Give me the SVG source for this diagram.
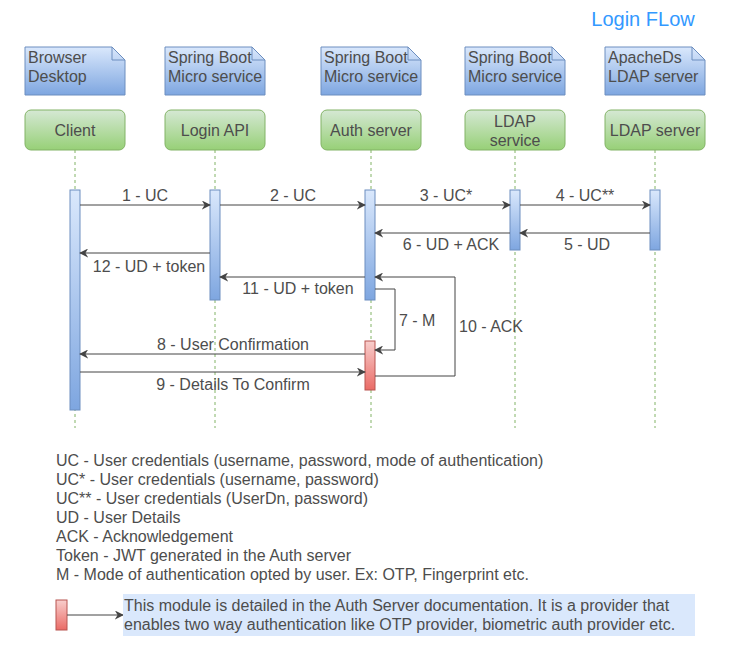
<svg xmlns="http://www.w3.org/2000/svg" width="731" height="668" viewBox="0 0 731 668">
<defs>
<linearGradient id="gBlue" x1="0" y1="0" x2="0" y2="1"><stop offset="0" stop-color="#dae8fc"/><stop offset="1" stop-color="#7ea6e0"/></linearGradient>
<linearGradient id="gGreen" x1="0" y1="0" x2="0" y2="1"><stop offset="0" stop-color="#d5e8d4"/><stop offset="1" stop-color="#97d077"/></linearGradient>
<linearGradient id="gRed" x1="0" y1="0" x2="0" y2="1"><stop offset="0" stop-color="#f8cecc"/><stop offset="1" stop-color="#ea6b66"/></linearGradient>
<marker id="arr" viewBox="0 0 10 10" refX="9" refY="5" markerWidth="9" markerHeight="9" markerUnits="userSpaceOnUse" orient="auto">
<path d="M0,0 L10,5 L0,10 L3,5 Z" fill="#444"/>
</marker>
</defs>
<style>
text{font-family:"Liberation Sans",Arial,sans-serif;font-size:16px;fill:#4d4d4d}
.mid{text-anchor:middle}
.note{fill:url(#gBlue);stroke:#6c8ebf;stroke-width:1}
.fold{fill:none;stroke:#6c8ebf;stroke-width:1}
.box{fill:url(#gGreen);stroke:#82b366;stroke-width:1}
.life{stroke:#82b366;stroke-width:1;stroke-dasharray:3,3;fill:none}
.act{fill:url(#gBlue);stroke:#6c8ebf;stroke-width:1}
.actr{fill:url(#gRed);stroke:#b85450;stroke-width:1}
.msg{stroke:#444;stroke-width:1;fill:none;marker-end:url(#arr)}
</style>
<rect width="731" height="668" fill="#ffffff"/>
<text x="643" y="26" class="mid" style="font-size:20px;fill:#3399ff">Login FLow</text>

<g id="lifelines">
<line class="life" x1="75" y1="150" x2="75" y2="428"/>
<line class="life" x1="215" y1="150" x2="215" y2="428"/>
<line class="life" x1="371" y1="150" x2="371" y2="428"/>
<line class="life" x1="515" y1="150" x2="515" y2="428"/>
<line class="life" x1="655" y1="150" x2="655" y2="428"/>
</g>

<g id="note-browser">
<path class="note" d="M25,47 H112 L125,60 V95 H25 Z"/><path class="fold" d="M112,47 V60 H125"/>
<text x="28" y="63">Browser</text><text x="28" y="82">Desktop</text>
</g>
<g id="note-login">
<path class="note" d="M165,47 H252 L265,60 V95 H165 Z"/><path class="fold" d="M252,47 V60 H265"/>
<text x="168" y="63">Spring Boot</text><text x="168" y="82">Micro service</text>
</g>
<g id="note-auth">
<path class="note" d="M321,47 H408 L421,60 V95 H321 Z"/><path class="fold" d="M408,47 V60 H421"/>
<text x="324" y="63">Spring Boot</text><text x="324" y="82">Micro service</text>
</g>
<g id="note-ldapsvc">
<path class="note" d="M465,47 H552 L565,60 V95 H465 Z"/><path class="fold" d="M552,47 V60 H565"/>
<text x="468" y="63">Spring Boot</text><text x="468" y="82">Micro service</text>
</g>
<g id="note-ldapserver">
<path class="note" d="M605,47 H692 L705,60 V95 H605 Z"/><path class="fold" d="M692,47 V60 H705"/>
<text x="608" y="63">ApacheDs</text><text x="608" y="82">LDAP server</text>
</g>

<g id="client"><rect class="box" x="25" y="110" width="100" height="40" rx="6"/><text x="75" y="136" class="mid">Client</text></g>
<g id="login-api"><rect class="box" x="165" y="110" width="100" height="40" rx="6"/><text x="215" y="136" class="mid">Login API</text></g>
<g id="auth-server"><rect class="box" x="321" y="110" width="100" height="40" rx="6"/><text x="371" y="136" class="mid">Auth server</text></g>
<g id="ldap-service"><rect class="box" x="465" y="110" width="100" height="40" rx="6"/><text x="515" y="127" class="mid">LDAP</text><text x="515" y="146" class="mid">service</text></g>
<g id="ldap-server"><rect class="box" x="605" y="110" width="100" height="40" rx="6"/><text x="655" y="136" class="mid">LDAP server</text></g>

<g id="activations">
<rect class="act" x="70" y="190" width="10" height="220"/>
<rect class="act" x="210" y="190" width="10" height="110"/>
<rect class="act" x="365" y="190" width="10" height="110"/>
<rect class="act" x="510" y="190" width="10" height="60"/>
<rect class="act" x="650" y="190" width="10" height="60"/>
<rect class="actr" x="365" y="341" width="10" height="49"/>
</g>

<g id="connectors">
<line class="msg" x1="80" y1="205" x2="210" y2="205"/>
<line class="msg" x1="220" y1="205" x2="365" y2="205"/>
<line class="msg" x1="375" y1="205" x2="510" y2="205"/>
<line class="msg" x1="520" y1="205" x2="650" y2="205"/>
<line class="msg" x1="650" y1="233" x2="520" y2="233"/>
<line class="msg" x1="510" y1="233" x2="375" y2="233"/>
<line class="msg" x1="210" y1="253" x2="80" y2="253"/>
<line class="msg" x1="365" y1="277" x2="220" y2="277"/>
<path class="msg" d="M375,289 H395 V350 H375"/>
<path class="msg" d="M375,376 H455 V277 H375"/>
<line class="msg" x1="365" y1="354" x2="80" y2="354"/>
<line class="msg" x1="80" y1="372" x2="365" y2="372"/>
<text x="145" y="201" class="mid">1 - UC</text>
<text x="293" y="201" class="mid">2 - UC</text>
<text x="446" y="201" class="mid">3 - UC*</text>
<text x="585" y="201" class="mid">4 - UC**</text>
<text x="587" y="250" class="mid">5 - UD</text>
<text x="451" y="250" class="mid">6 - UD + ACK</text>
<text x="149" y="272" class="mid">12 - UD + token</text>
<text x="298" y="294" class="mid">11 - UD + token</text>
<text x="399" y="326">7 - M</text>
<text x="459" y="332">10 - ACK</text>
<text x="233" y="350" class="mid">8 - User Confirmation</text>
<text x="233" y="390" class="mid">9 - Details To Confirm</text>
</g>

<g id="legend">
<text x="56" y="466">UC - User credentials (username, password, mode of authentication)</text>
<text x="56" y="485">UC* - User credentials (username, password)</text>
<text x="56" y="504">UC** - User credentials (UserDn, password)</text>
<text x="56" y="523">UD - User Details</text>
<text x="56" y="542">ACK - Acknowledgement</text>
<text x="56" y="561">Token - JWT generated in the Auth server</text>
<text x="56" y="580">M - Mode of authentication opted by user. Ex: OTP, Fingerprint etc.</text>
</g>

<g id="module-note">
<rect class="actr" x="56" y="600" width="11" height="30"/>
<line class="msg" x1="67" y1="615" x2="123" y2="615"/>
<rect x="123" y="594" width="572" height="42" fill="#dae8fc"/>
<text x="124" y="611">This module is detailed in the Auth Server documentation. It is a provider that</text>
<text x="124" y="630">enables two way authentication like OTP provider, biometric auth provider etc.</text>
</g>
</svg>
